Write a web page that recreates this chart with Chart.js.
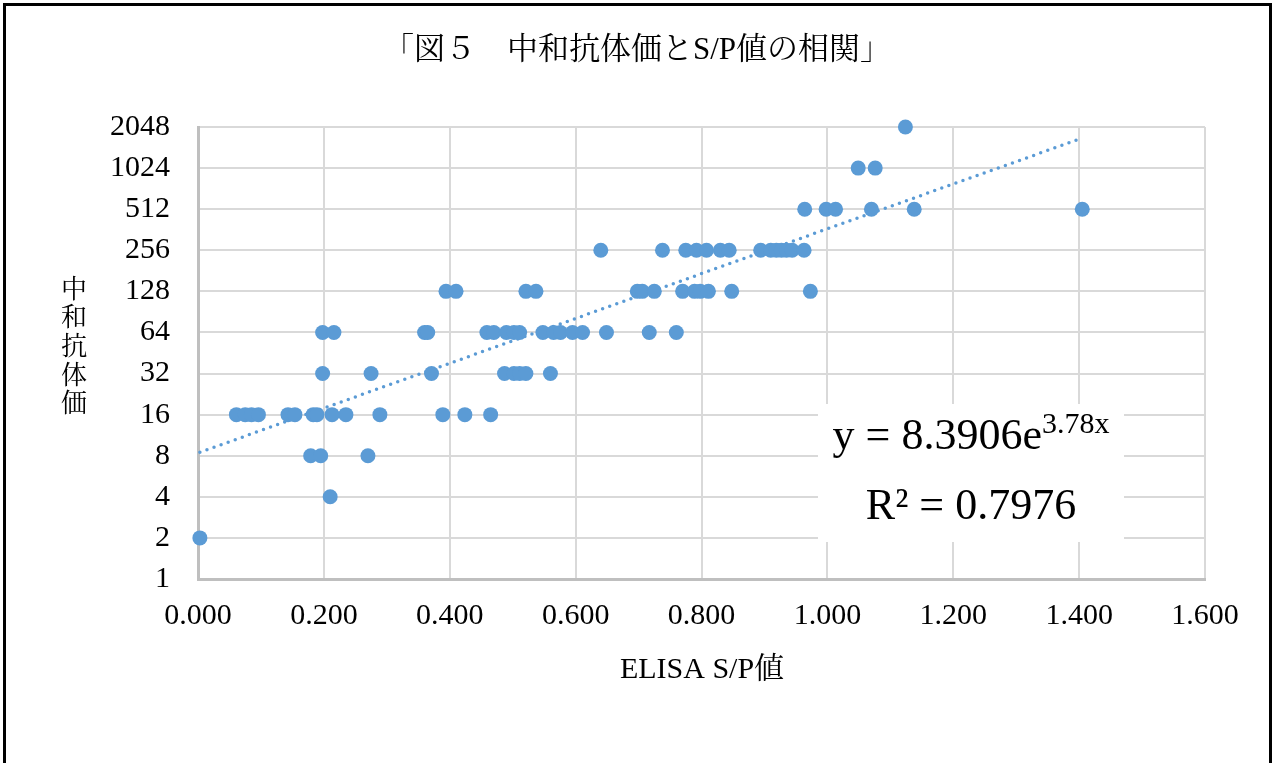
<!DOCTYPE html>
<html>
<head>
<meta charset="utf-8">
<script src="https://cdn.jsdelivr.net/npm/chart.js@4"></script>
<style>
    html, body { margin: 0; padding: 0; background: #fff; }
    canvas { display: block; }
</style>
</head>
<body>
<canvas id="corrChart" width="1274" height="763"></canvas>
<script>
// ELISA S/P values, grouped by neutralising antibody titer
const sp2 = [0.003];
const sp4 = [0.210];
const sp8 = [0.179, 0.195, 0.270];
const sp16 = [0.061, 0.075, 0.085, 0.096, 0.143, 0.154, 0.183, 0.189, 0.213, 0.235, 0.289, 0.389, 0.424, 0.465];
const sp32 = [0.198, 0.275, 0.371, 0.487, 0.502, 0.511, 0.521, 0.560];
const sp64 = [0.198, 0.216, 0.360, 0.365, 0.459, 0.470, 0.490, 0.502, 0.511, 0.548, 0.565, 0.576, 0.595, 0.611, 0.649, 0.717, 0.760];
const sp128 = [0.394, 0.410, 0.521, 0.537, 0.698, 0.706, 0.725, 0.770, 0.789, 0.798, 0.811, 0.848, 0.973];
const sp256 = [0.640, 0.738, 0.775, 0.792, 0.808, 0.830, 0.844, 0.894, 0.910, 0.919, 0.927, 0.935, 0.944, 0.963];
const sp512 = [0.964, 0.998, 1.013, 1.070, 1.138, 1.405];
const sp1024 = [1.049, 1.076];
const sp2048 = [1.124];

const titers = [2, 4, 8, 16, 32, 64, 128, 256, 512, 1024, 2048];
const spGroups = [sp2, sp4, sp8, sp16, sp32, sp64, sp128, sp256, sp512, sp1024, sp2048];

const yTicks = [1, 2, 4, 8, 16, 32, 64, 128, 256, 512, 1024, 2048];
const xTicks = [0, 0.2, 0.4, 0.6, 0.8, 1.0, 1.2, 1.4, 1.6];

// Exponential trendline y = a * e^(b x)
const fitA = 8.3906;
const fitB = 3.78;

const BLUE = '#5b9bd5';
const SERIF = '"Liberation Serif", "Noto Serif CJK JP", "Noto Sans CJK JP", serif';

// Build scatter points
const points = [];
spGroups.forEach((group, i) => {
    group.forEach(x => points.push({ x: x, y: titers[i] }));
});

const allX = points.map(p => p.x);
const minX = Math.min(...allX);
const maxX = Math.max(...allX);
const trendPoints = [minX, maxX].map(x => ({ x: x, y: fitA * Math.exp(fitB * x) }));

// Texts, box and frame around the plot
const decorPlugin = {
    id: 'decor',
    beforeDatasetsDraw(chart) {
        const ctx = chart.ctx;
        // white box behind the equation
        ctx.save();
        ctx.fillStyle = '#ffffff';
        ctx.fillRect(818, 404, 306, 138);
        ctx.restore();
    },
    afterDraw(chart) {
        const ctx = chart.ctx;
        ctx.save();

        // outer frame
        ctx.strokeStyle = '#000';
        ctx.lineWidth = 3;
        ctx.strokeRect(4.5, 4.5, 1266, 800);

        // title
        ctx.fillStyle = '#000';
        ctx.textAlign = 'center';
        ctx.textBaseline = 'middle';
        ctx.font = '31px ' + SERIF;
        ctx.fillText('「図５　中和抗体価とS/P値の相関」', 637, 51);

        // x axis title
        ctx.font = '30px ' + SERIF;
        ctx.fillText('ELISA S/P値', 702, 670);

        // y axis title, stacked
        ctx.font = '26px ' + SERIF;
        const yTitle = '中和抗体価';
        for (let i = 0; i < yTitle.length; i++) {
            ctx.fillText(yTitle[i], 74, 291 + i * 28.6);
        }

        // equation
        ctx.textBaseline = 'alphabetic';
        ctx.textAlign = 'left';
        ctx.font = '44px ' + SERIF;
        const mainTxt = 'y = ' + fitA.toFixed(4) + 'e';
        const supTxt = fitB.toFixed(2) + 'x';
        const mainW = ctx.measureText(mainTxt).width;
        ctx.font = '30px ' + SERIF;
        const supW = ctx.measureText(supTxt).width;
        const startX = 971 - (mainW + supW) / 2;
        ctx.font = '44px ' + SERIF;
        ctx.fillText(mainTxt, startX, 449);
        ctx.font = '30px ' + SERIF;
        ctx.fillText(supTxt, startX + mainW, 433);

        ctx.textAlign = 'center';
        ctx.font = '44px ' + SERIF;
        ctx.fillText('R² = 0.7976', 971, 519);

        ctx.restore();
    }
};

const ctx = document.getElementById('corrChart').getContext('2d');
new Chart(ctx, {
    type: 'scatter',
    data: {
        datasets: [
            {
                label: 'trend',
                type: 'line',
                data: trendPoints,
                borderColor: BLUE,
                borderWidth: 3.5,
                borderDash: [0, 7.5],
                borderCapStyle: 'round',
                pointRadius: 0,
                fill: false,
                clip: false,
                order: 2
            },
            {
                label: 'points',
                data: points,
                backgroundColor: BLUE,
                borderColor: BLUE,
                borderWidth: 0,
                pointRadius: 7.5,
                pointHoverRadius: 7.5,
                clip: false,
                order: 1
            }
        ]
    },
    options: {
        responsive: false,
        devicePixelRatio: 1,
        animation: false,
        layout: { padding: { top: 127, right: 69, left: 0, bottom: 0 } },
        plugins: {
            legend: { display: false },
            title: { display: false },
            tooltip: { enabled: false }
        },
        scales: {
            x: {
                type: 'linear',
                min: 0,
                max: 1.6,
                afterBuildTicks: s => { s.ticks = xTicks.map(v => ({ value: v })); },
                afterFit: s => { s.height = 184; },
                grid: { color: '#d9d9d9', lineWidth: 2, drawTicks: false },
                border: { color: '#bfbfbf', width: 3 },
                ticks: {
                    color: '#000',
                    padding: 19,
                    font: { family: SERIF, size: 30 },
                    callback: v => Number(v).toFixed(3)
                }
            },
            y: {
                type: 'logarithmic',
                min: 1,
                max: 2048,
                afterBuildTicks: s => { s.ticks = yTicks.map(v => ({ value: v })); },
                afterFit: s => { s.width = 198; },
                grid: { color: '#d9d9d9', lineWidth: 2, drawTicks: false },
                border: { color: '#bfbfbf', width: 3 },
                ticks: {
                    color: '#000',
                    padding: 28,
                    font: { family: SERIF, size: 30 },
                    callback: v => String(v)
                }
            }
        }
    },
    plugins: [decorPlugin]
});
</script>
</body>
</html>
